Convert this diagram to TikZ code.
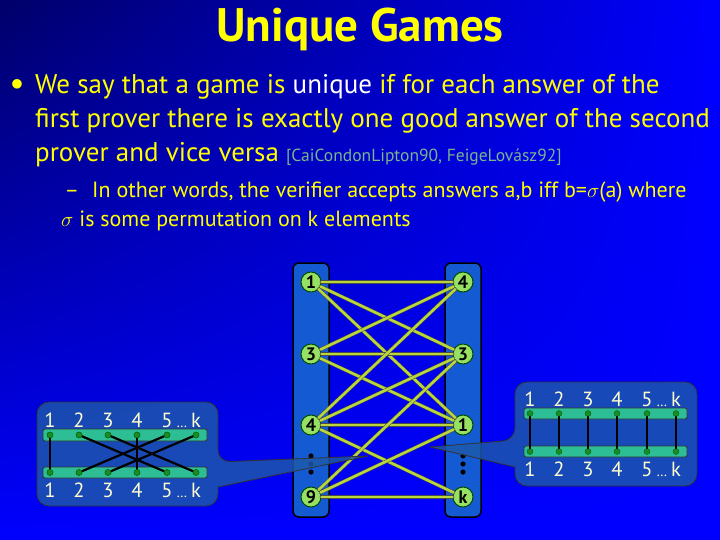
\documentclass[tikz,border=0pt]{standalone}
\usepackage{fontspec}
\setmainfont{PT Sans}
\usetikzlibrary{positioning,shadings}
\definecolor{navyblue}{RGB}{0,0,105}
\definecolor{slideblue}{RGB}{0,0,255}
\definecolor{slideyellow}{RGB}{255,255,0}
\definecolor{citegreen}{RGB}{120,180,140}
\definecolor{colblue}{RGB}{20,90,210}
\definecolor{vgreen}{RGB}{150,225,100}
\definecolor{edgegreen}{RGB}{185,215,60}
\definecolor{calloutblue}{RGB}{30,90,170}
\definecolor{barteal}{RGB}{45,190,150}
\definecolor{dotgreen}{RGB}{25,140,40}
\definecolor{labelyellow}{RGB}{255,255,205}
\begin{document}
\begin{tikzpicture}[x=1pt,y=-1pt,line join=round,line cap=round,
	txt/.style={anchor=base west,inner sep=0pt,text=slideyellow,font=\fontsize{27}{27}\selectfont},
	subtxt/.style={anchor=base west,inner sep=0pt,text=slideyellow,font=\fontsize{22}{22}\selectfont},
	column/.style={draw=black,line width=1.5pt,fill=colblue,rounded corners=6pt},
	vertex/.style={circle,draw=black!70!green,line width=1pt,fill=vgreen,inner sep=0pt,minimum size=20pt,font=\fontsize{18}{18}\selectfont\bfseries},
	link/.style={draw=black!70,double=edgegreen,double distance=2.6pt,line width=0.5pt},
	callout/.style={draw=black!80,line width=0.8pt,fill=calloutblue,fill opacity=0.82},
	bar/.style={draw=black!80,line width=0.8pt,fill=barteal,rounded corners=2pt},
	bead/.style={circle,draw=black!60!green,fill=dotgreen,inner sep=0pt,minimum size=6pt},
	num/.style={text=labelyellow,inner sep=0pt,font=\fontsize{20.5}{20.5}\selectfont},
	perm/.style={black,line width=2.2pt}]
	\def\xl{311} \def\xr{463}
	\shade[upper left=navyblue,upper right=slideblue,lower left=slideblue,lower right=slideblue] (0,0) rectangle (720,540);
	\useasboundingbox (0,0) rectangle (720,540);
	%\draw[gray,dashed,step=20] (0,0) grid (720,540);
	\node[text=slideyellow,font=\fontsize{47}{47}\selectfont\bfseries] (title) at (360,29) {Unique Games};
	\node[text=slideyellow,font=\fontsize{24}{24}\selectfont] (dot1) at (17,85) {$\bullet$};
	\node[txt] (line1) at (35,94) {We say that a game is \textcolor{white}{unique} if for each answer of the};
	\node[txt] (line2) at (35,128) {first prover there is exactly one good answer of the second};
	\node[txt] (line3) at (35,162) {prover and vice versa {\color{citegreen}\fontsize{17.5}{17.5}\selectfont [CaiCondonLipton90, FeigeLovász92]}};
	\node[subtxt,anchor=base] (dash1) at (72,197) {--};
	\node[subtxt] (sub1) at (92,197) {In other words, the verifier accepts answers a,b iff b=$\sigma$(a) where};
	\node[subtxt] (sub2) at (61,226) {$\sigma$ is some permutation on k elements};
	% the two provers
	\draw[column] (293,263) rectangle (329,517);
	\draw[column] (445,263) rectangle (481,517);
	\foreach \lab/\y [count=\i] in {1/282,3/354,4/425,9/497}
		\node[vertex] (p\i) at (\xl,\y) {\lab};
	\foreach \lab/\y [count=\i] in {4/282,3/354,1/425,k/497}
		\node[vertex] (q\i) at (\xr,\y) {\lab};
	\foreach \a/\b in {1/1,1/2,1/3,2/1,2/2,2/3,3/1,3/2,3/3,3/4,4/2,4/3,4/4}
		\draw[link] (p\a) -- (q\b);
	\foreach \y in {456,464,472}{
		\fill (\xl,\y) circle (2.6);
		\fill (\xr,\y) circle (2.6);
	}
	% left callout: a permutation
	\draw[callout] (218,462) -- (368,456) -- (218,487) [rounded corners=12pt] -- (218,506) -- (37,506) -- (37,402) -- (218,402) -- cycle;
	\draw[bar] (43,429) rectangle (207,441);
	\draw[bar] (43,467) rectangle (207,478);
	\foreach \x [count=\i] in {50,79,108,137,167,196}{
		\node[bead] (lt\i) at (\x,435) {};
		\node[bead] (lb\i) at (\x,472.5) {};
	}
	\foreach \a/\b in {1/1,2/5,3/6,4/4,5/2,6/3}
		\draw[perm] (lt\a) -- (lb\b);
	\foreach \i in {1,...,6}{
		\node[bead] at (lt\i) {};
		\node[bead] at (lb\i) {};
	}
	\foreach \lab [count=\i] in {1,2,3,4,5,k}{
		\node[num] (ltl\i) at ([yshift=15]lt\i) {\lab};
		\node[num] (lbl\i) at ([yshift=-18]lb\i) {\lab};
	}
	\node[num,anchor=base] (ltdots) at (ltl5.base -| 182,0) {\fontsize{14}{14}\selectfont\dots};
	\node[num,anchor=base] (lbdots) at (lbl5.base -| 182,0) {\fontsize{14}{14}\selectfont\dots};
	% right callout: identity
	\draw[callout] (515,440) -- (430,447) -- (515,467) [rounded corners=12pt] -- (515,486) -- (697,486) -- (697,382) -- (515,382) -- cycle;
	\draw[bar] (524,408) rectangle (687,419);
	\draw[bar] (524,446) rectangle (687,457);
	\foreach \x [count=\i] in {530,559,588,617,647,676}{
		\node[bead] (rt\i) at (\x,413.5) {};
		\node[bead] (rb\i) at (\x,451.5) {};
		\draw[perm,line width=1.8pt] (rt\i) -- (rb\i);
	}
	\foreach \lab [count=\i] in {1,2,3,4,5,k}{
		\node[num] (rtl\i) at ([yshift=14]rt\i) {\lab};
		\node[num] (rbl\i) at ([yshift=-18]rb\i) {\lab};
	}
	\node[num,anchor=base] (rtdots) at (rtl5.base -| 662,0) {\fontsize{14}{14}\selectfont\dots};
	\node[num,anchor=base] (rbdots) at (rbl5.base -| 662,0) {\fontsize{14}{14}\selectfont\dots};
\end{tikzpicture}
\end{document}
